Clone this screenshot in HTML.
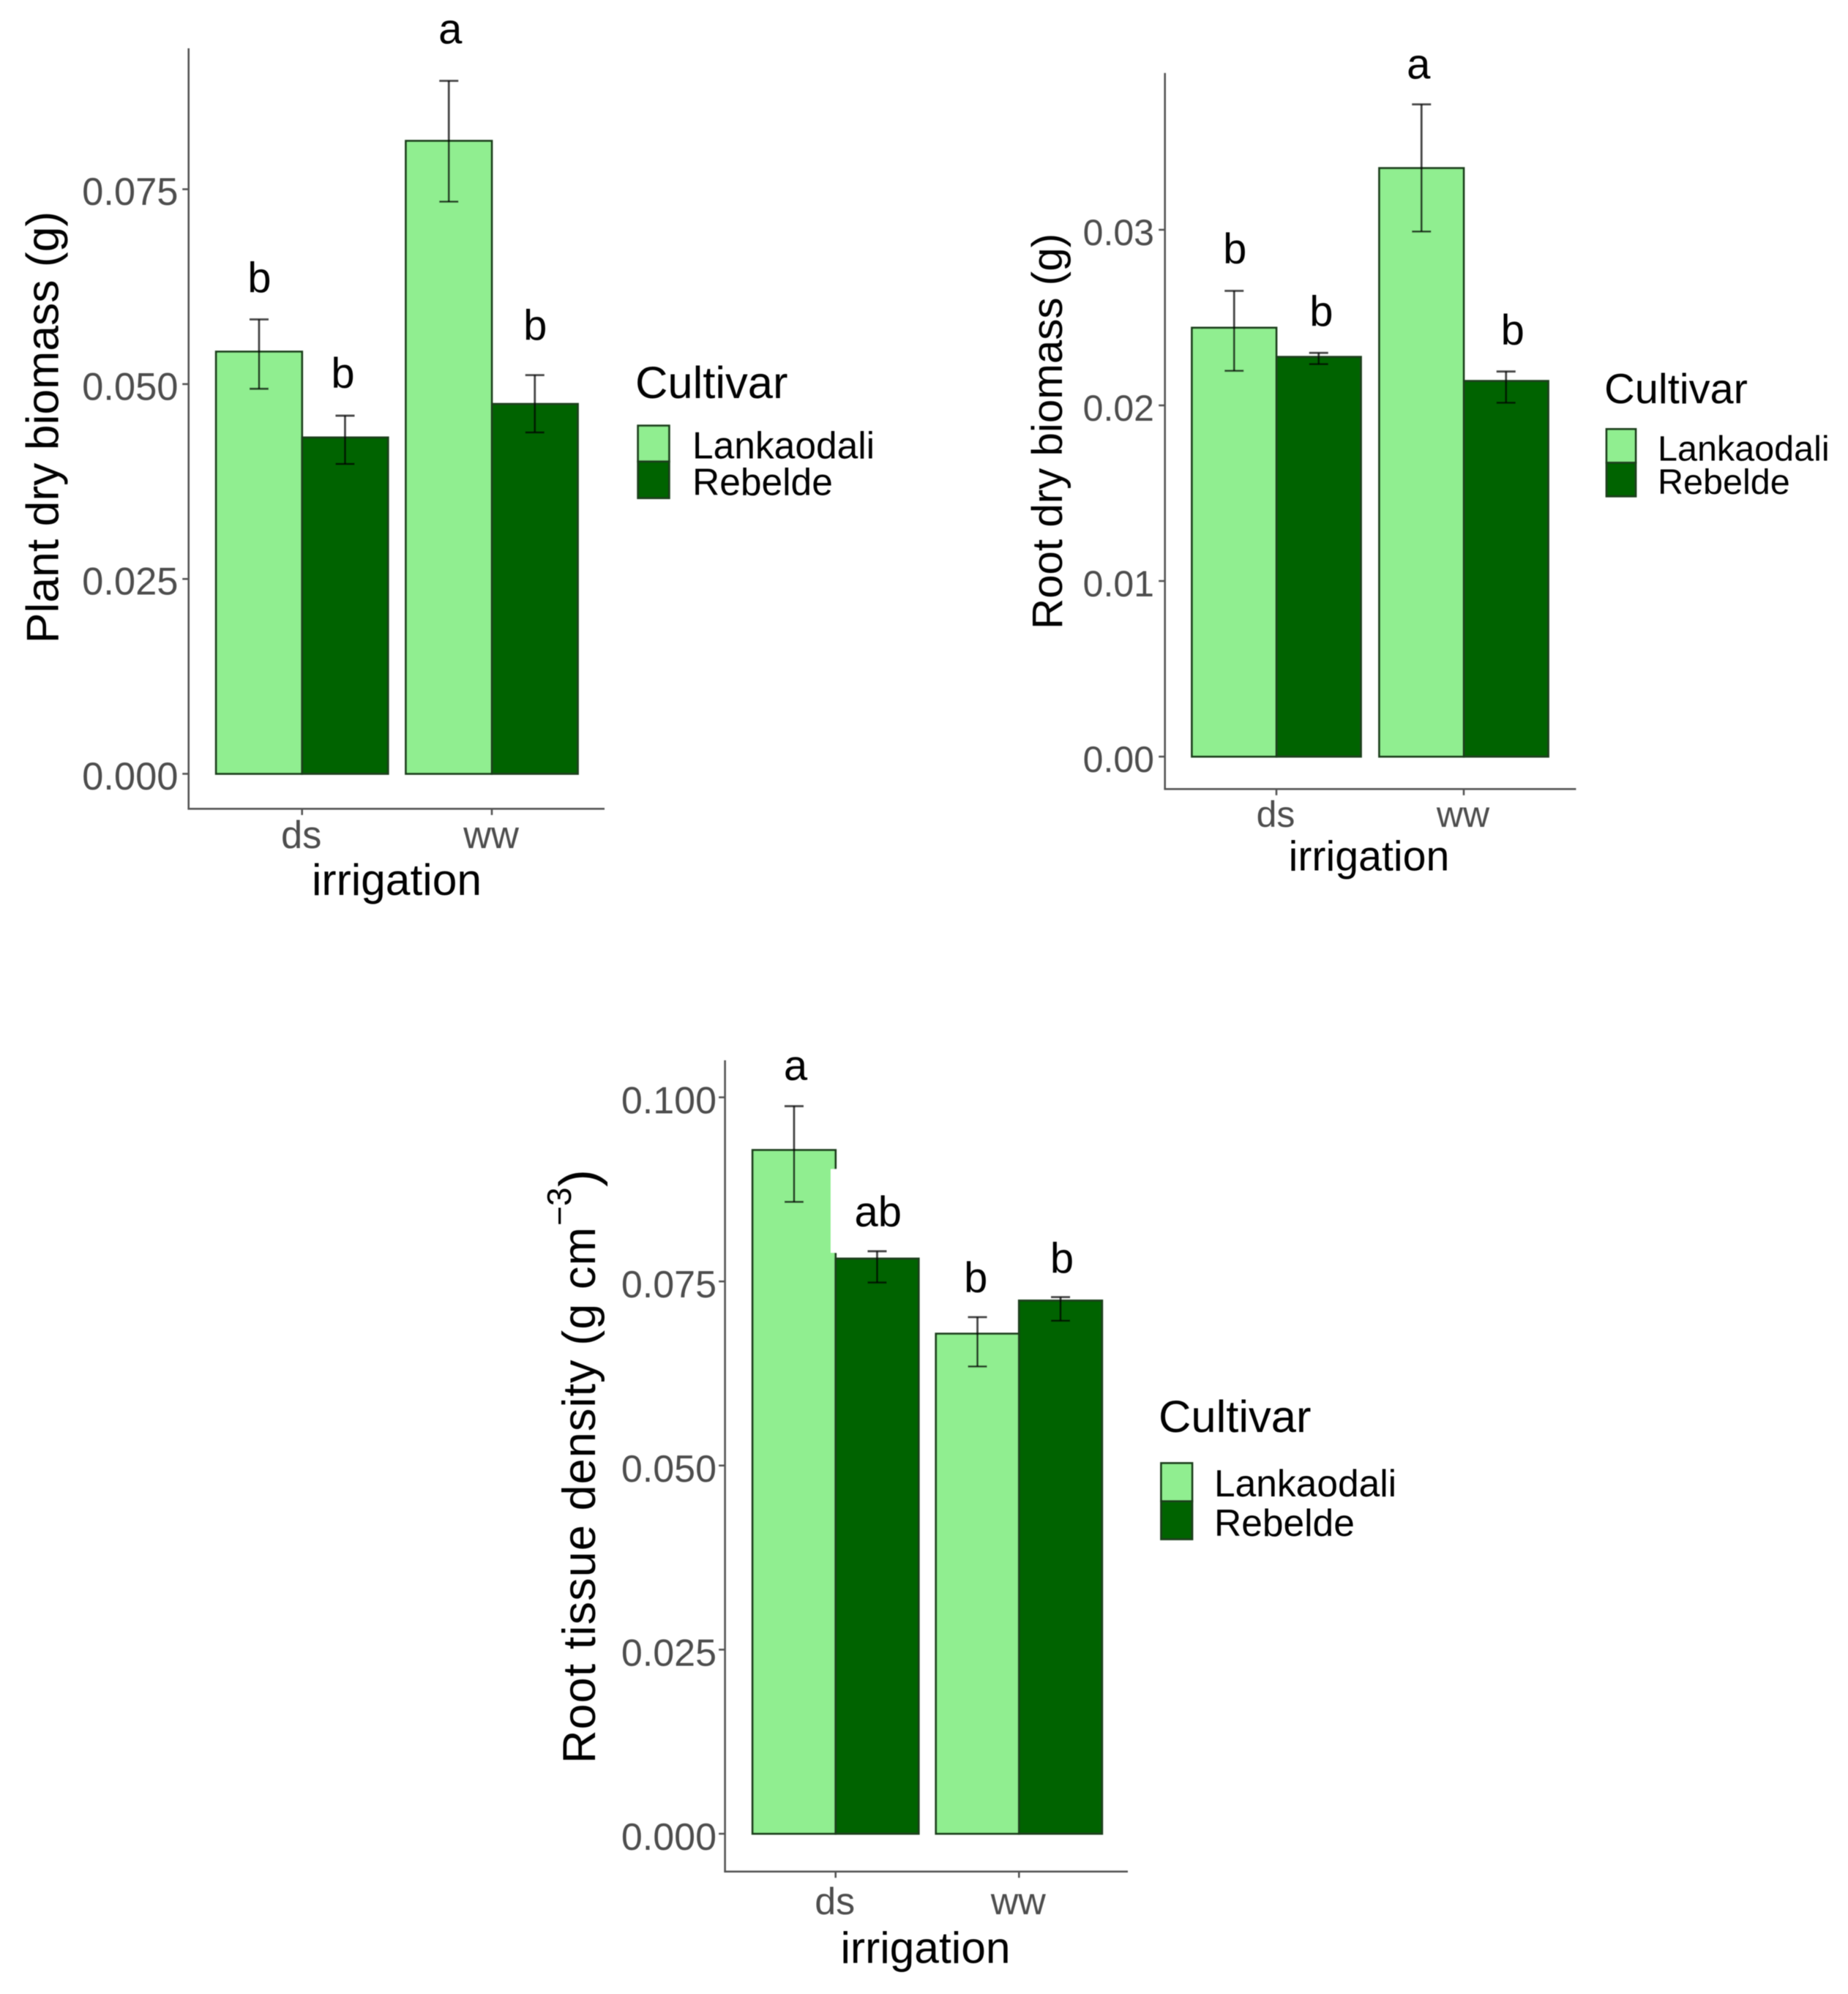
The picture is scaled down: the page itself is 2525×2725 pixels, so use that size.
<!DOCTYPE html>
<html lang="en">
<head>
<meta charset="utf-8">
<title>Biomass and root tissue density by irrigation and cultivar</title>
<style>
html,body{margin:0;padding:0;background:#fff;}
svg{display:block;}
text{font-family:"Liberation Sans",sans-serif;}
.tick{fill:#4d4d4d;}
.title{fill:#000;}
.axis{stroke:#555;stroke-width:2.6;fill:none;}
.box{stroke:#1f3f1f;stroke-width:2.8;}
</style>
</head>
<body>
<svg id="figure" xmlns="http://www.w3.org/2000/svg" width="2525" height="2725" viewBox="0 0 2525 2725">
<rect width="2525" height="2725" fill="#fff"/>

<g id="panel-plant" filter="url(#soft)">
<line class="axis" x1="257.7" y1="66" x2="257.7" y2="1105.3"/>
<line class="axis" x1="256.4" y1="1105.3" x2="826" y2="1105.3"/>
<text class="title" font-size="62.5" text-anchor="middle" transform="translate(79.5,584) rotate(-90)">Plant dry biomass (g)</text>
<text class="title" font-size="60.5" text-anchor="middle" x="542" y="1223">irrigation</text>
<text class="title" font-size="61.5" x="868" y="544">Cultivar</text>
<rect class="box" x="871.7" y="581.7" width="42.6" height="49" fill="#90ee90"/>
<rect class="box" x="871.7" y="630.7" width="42.6" height="50" fill="#006400"/>
<text class="title" font-size="51.5" x="946" y="626.7">Lankaodali</text>
<text class="title" font-size="51.5" x="946" y="676.7">Rebelde</text>
</g>

<g id="panel-root" filter="url(#soft)">
<line class="axis" x1="1591.7" y1="99.7" x2="1591.7" y2="1078.3"/>
<line class="axis" x1="1590.4" y1="1078.3" x2="2153.4" y2="1078.3"/>
<text class="title" font-size="58.3" text-anchor="middle" transform="translate(1451,589.5) rotate(-90)">Root dry biomass (g)</text>
<text class="title" font-size="57.3" text-anchor="middle" x="1870.5" y="1189.3">irrigation</text>
<text class="title" font-size="57.8" x="2192" y="551">Cultivar</text>
<rect class="box" x="2195" y="586.4" width="40" height="45.9" fill="#90ee90"/>
<rect class="box" x="2195" y="632.3" width="40" height="46" fill="#006400"/>
<text class="title" font-size="48.5" x="2265" y="629.3">Lankaodali</text>
<text class="title" font-size="48.5" x="2265" y="675.2">Rebelde</text>
</g>

<g id="panel-density" filter="url(#soft)">
<line class="axis" x1="990.6" y1="1449" x2="990.6" y2="2557.7"/>
<line class="axis" x1="989.3" y1="2557.7" x2="1541" y2="2557.7"/>
<text class="title" font-size="63" textLength="733" lengthAdjust="spacing" transform="translate(813,2410) rotate(-90)">Root tissue density (g cm</text>
<text class="title" font-size="46" transform="translate(780,1675) rotate(-90)">−3</text>
<text class="title" font-size="72" transform="translate(815,1622) rotate(-90)">)</text>
<text class="title" font-size="60.5" text-anchor="middle" x="1264.5" y="2682.7">irrigation</text>
<text class="title" font-size="61.5" x="1583" y="1957">Cultivar</text>
<rect class="box" x="1586.5" y="1999.5" width="42.5" height="52" fill="#90ee90"/>
<rect class="box" x="1586.5" y="2051.5" width="42.5" height="52" fill="#006400"/>
<text class="title" font-size="51.5" x="1659" y="2045">Lankaodali</text>
<text class="title" font-size="51.5" x="1659" y="2099">Rebelde</text>
</g>

<defs>
<filter id="soft" x="-5%" y="-5%" width="110%" height="110%"><feGaussianBlur stdDeviation="0.55"/></filter>
</defs>
</svg>

<script>
// Shared categories
const irrigationLevels = ['ds', 'ww'];
const cultivarNames = ['Lankaodali', 'Rebelde'];

// Plant dry biomass (g)
const plantTickValues = [0, 0.025, 0.05, 0.075];
const plantTickLabels = ['0.000', '0.025', '0.050', '0.075'];
const plantMeans = [0.05416, 0.04315, 0.0812, 0.04745];
const plantErrHigh = [0.0583, 0.04595, 0.0889, 0.05115];
const plantErrLow = [0.0494, 0.03975, 0.0734, 0.0438];
const plantSigLabels = ['b', 'b', 'a', 'b'];
const plantSigHeights = [0.06178, 0.04951, 0.09369, 0.05567];

// Root dry biomass (g)
const rootTickValues = [0, 0.01, 0.02, 0.03];
const rootTickLabels = ['0.00', '0.01', '0.02', '0.03'];
const rootMeans = [0.02442, 0.02276, 0.03351, 0.02139];
const rootErrHigh = [0.02652, 0.02299, 0.03714, 0.02193];
const rootErrLow = [0.02197, 0.02235, 0.0299, 0.02015];
const rootSigLabels = ['b', 'b', 'a', 'b'];
const rootSigHeights = [0.02809, 0.02452, 0.03861, 0.02346];

// Root tissue density (g cm-3)
const densityTickValues = [0, 0.025, 0.05, 0.075, 0.1];
const densityTickLabels = ['0.000', '0.025', '0.050', '0.075', '0.100'];
const densityMeans = [0.09284, 0.0781, 0.0679, 0.0724];
const densityErrHigh = [0.0988, 0.0791, 0.07015, 0.07287];
const densityErrLow = [0.0858, 0.07485, 0.06346, 0.06967];
const densitySigLabels = ['a', 'ab', 'b', 'b'];
const densitySigHeights = [0.10234, 0.08247, 0.07353, 0.07614];

const NS = 'http://www.w3.org/2000/svg';
const barFills = ['#90ee90', '#006400'];

function make(parent, tag, attrs, content) {
  const el = document.createElementNS(NS, tag);
  for (const key in attrs) el.setAttribute(key, attrs[key]);
  if (content !== undefined) el.textContent = content;
  parent.appendChild(el);
  return el;
}

function drawPanel(cfg) {
  const root = document.getElementById(cfg.id);
  const yScale = v => cfg.zeroY - v * cfg.pxPerUnit;
  const xScale = i => cfg.firstCenter + i * cfg.centerStep;
  const barLeft = (group, series) => xScale(group) - cfg.halfGroup + series * cfg.halfGroup;

  // y ticks
  cfg.tickValues.forEach((value, i) => {
    const mark = make(root, 'line', {
      class: 'axis',
      x1: cfg.axisX - 8.5, x2: cfg.axisX,
      y1: yScale(value), y2: yScale(value)
    });
    
    
    const label = make(root, 'text', {
      class: 'tick',
      x: cfg.tickLabelX,
      y: yScale(value) + cfg.tickLabelDy,
      'font-size': cfg.tickFont,
      'text-anchor': 'end'
    }, cfg.tickLabels[i]);
    
    
  });

  // x ticks
  irrigationLevels.forEach((level, g) => {
    const mark = make(root, 'line', {
      class: 'axis',
      x1: xScale(g), x2: xScale(g),
      y1: cfg.axisY, y2: cfg.axisY + 8.5
    });
    
    
    const label = make(root, 'text', {
      class: 'tick',
      x: xScale(g) - 1,
      y: cfg.xLabelY,
      'font-size': cfg.tickFont,
      'text-anchor': 'middle'
    }, level);
    
    
  });

  // bars (ordered group by group, cultivar by cultivar)
  cfg.means.forEach((value, k) => {
    const group = Math.floor(k / cultivarNames.length);
    const series = k % cultivarNames.length;
    const bar = make(root, 'rect', {
      class: 'box',
      x: barLeft(group, series),
      y: yScale(value),
      width: cfg.halfGroup,
      height: yScale(0) - yScale(value),
      fill: barFills[series]
    });
    
    
  });

  // white retouch present in the density panel, between the two ds bars
  if (cfg.retouch) {
    const seam = xScale(0);
    const patch = make(root, 'rect', {
      x: seam - 6.7,
      y: yScale(cfg.means[0]) + 26,
      width: 11.7,
      height: (yScale(cfg.means[1]) - 8) - (yScale(cfg.means[0]) + 26),
      fill: '#fff'
    });
    
    
  }

  // error bars and significance letters
  cfg.means.forEach((value, k) => {
    const group = Math.floor(k / cultivarNames.length);
    const series = k % cultivarNames.length;
    const cx = barLeft(group, series) + cfg.halfGroup / 2;
    const high = yScale(cfg.errHigh[k]);
    const low = yScale(cfg.errLow[k]);
    const style = { stroke: '#000', 'stroke-opacity': 0.72, 'stroke-width': 2.8 };

    const stem = make(root, 'line', Object.assign({ x1: cx, x2: cx, y1: high, y2: low }, style));
    
    

    const capTop = make(root, 'line', Object.assign({ x1: cx - 13, x2: cx + 13, y1: high, y2: high }, style));
    
    

    const capBottom = make(root, 'line', Object.assign({ x1: cx - 13, x2: cx + 13, y1: low, y2: low }, style));
    
    

    const sig = make(root, 'text', {
      x: cx + cfg.sigShift[k],
      y: yScale(cfg.sigHeights[k]),
      'font-size': 58,
      'text-anchor': 'middle',
      fill: '#000'
    }, cfg.sigLabels[k]);
    
    
  });
}

drawPanel({
  id: 'panel-plant',
  zeroY: 1057.5, pxPerUnit: 10652,
  firstCenter: 412.7, centerStep: 259.3, halfGroup: 117.5,
  axisX: 257.7, axisY: 1105.3,
  tickLabelX: 243.5, tickLabelDy: 21.5, tickFont: 52.5, xLabelY: 1159,
  tickValues: plantTickValues, tickLabels: plantTickLabels,
  means: plantMeans, errHigh: plantErrHigh, errLow: plantErrLow,
  sigLabels: plantSigLabels, sigHeights: plantSigHeights,
  sigShift: [0.4, -3, 2, 0.5]
});

drawPanel({
  id: 'panel-root',
  zeroY: 1034, pxPerUnit: 24000,
  firstCenter: 1744, centerStep: 256, halfGroup: 115.5,
  axisX: 1591.7, axisY: 1078.3,
  tickLabelX: 1577, tickLabelDy: 21, tickFont: 50, xLabelY: 1130,
  tickValues: rootTickValues, tickLabels: rootTickLabels,
  means: rootMeans, errHigh: rootErrHigh, errLow: rootErrLow,
  sigLabels: rootSigLabels, sigHeights: rootSigHeights,
  sigShift: [1, 3.6, -4, 9]
});

drawPanel({
  id: 'panel-density',
  zeroY: 2506, pxPerUnit: 10064,
  firstCenter: 1141.7, centerStep: 250.6, halfGroup: 113.5,
  axisX: 990.6, axisY: 2557.7,
  tickLabelX: 979, tickLabelDy: 22, tickFont: 52, xLabelY: 2616,
  tickValues: densityTickValues, tickLabels: densityTickLabels,
  means: densityMeans, errHigh: densityErrHigh, errLow: densityErrLow,
  sigLabels: densitySigLabels, sigHeights: densitySigHeights,
  sigShift: [2, 1.3, -2.3, 2],
  retouch: true
});
</script>
</body>
</html>
